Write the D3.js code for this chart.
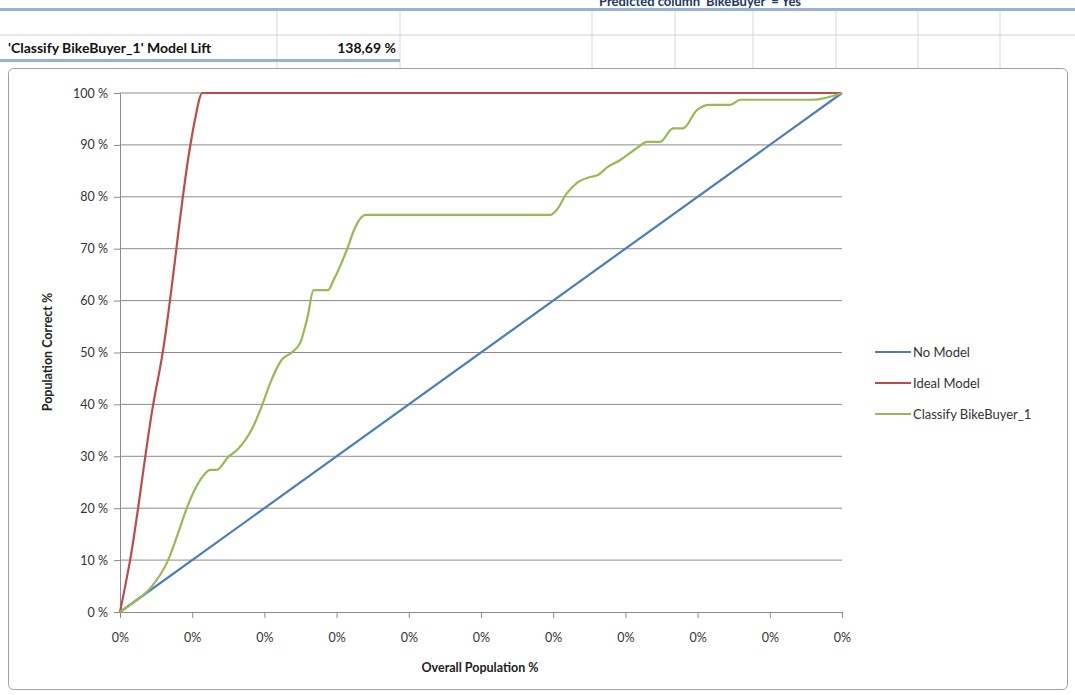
<!DOCTYPE html>
<html>
<head>
<meta charset="utf-8">
<script src="https://cdn.jsdelivr.net/npm/d3@7"></script>
<style>
  body { margin: 0; background: #fff; }
  svg text { font-family: Lato, "Open Sans", sans-serif; }
</style>
</head>
<body>
<div id="chart"></div>
<script>
var width = 1075, height = 695;

// Series data: [overall population %, population correct %]
var noModel = [[0, 0], [100, 100]];
var idealModel = [[0, 0], [1.4, 10], [4.6, 40], [5.8, 49], [9.7, 89.6], [10.4, 95], [11.4, 100], [100, 100]];
var classify = [[0, 0], [2, 2], [4.2, 4.6], [6.6, 9.8], [8, 15], [9.3, 20.2], [11.1, 25.4], [12.5, 27.4],
  [13.4, 27.4], [15, 29.9], [16.2, 31.2], [18.4, 35.6], [19.7, 39.9], [20.8, 44.1], [22.4, 48.6],
  [23.8, 50], [25, 52], [26, 57], [26.8, 62], [28.8, 62], [29.6, 64], [31.4, 69.7], [32.6, 74.2],
  [34, 76.5], [59.6, 76.5], [60.5, 77.5], [61.8, 80.5], [63.3, 82.7], [65.1, 83.8], [66.2, 84.2],
  [67.5, 85.7], [69.3, 87.1], [71.6, 89.4], [73, 90.6], [74.8, 90.6], [76.6, 93.2], [78, 93.2],
  [79.9, 96.7], [81.7, 97.7], [84.5, 97.7], [85.9, 98.7], [96, 98.7], [100, 100]];

var seriesNames = ["No Model", "Ideal Model", "Classify BikeBuyer_1"];
var seriesColors = ["#4a7ebb", "#be4b48", "#98b954"];
var xTickValues = [0, 10, 20, 30, 40, 50, 60, 70, 80, 90, 100];
var xTickLabels = ["0%", "0%", "0%", "0%", "0%", "0%", "0%", "0%", "0%", "0%", "0%"];
var yTickValues = [0, 10, 20, 30, 40, 50, 60, 70, 80, 90, 100];

var modelLiftLabel = "'Classify BikeBuyer_1' Model Lift";
var modelLiftValue = "138,69 %";
var sheetTitle = "Predicted column 'BikeBuyer' = Yes";

var svg = d3.select("#chart").append("svg")
  .attr("width", width)
  .attr("height", height);

// Spreadsheet background behind the chart
var sheet = svg.append("g");
var colLines = [277, 400, 592, 675, 753, 836, 918, 1000];
sheet.selectAll(".col").data(colLines).enter().append("line")
  .attr("x1", function(d) { return d; }).attr("x2", function(d) { return d; })
  .attr("y1", 10).attr("y2", 68)
  .attr("stroke", "#d8d8d8");
sheet.append("line").attr("x1", 0).attr("x2", width).attr("y1", 35).attr("y2", 35).attr("stroke", "#d0d0d0");
sheet.append("rect").attr("x", 0).attr("y", 8).attr("width", width).attr("height", 3).attr("fill", "#95b3d7");
sheet.append("text")
  .attr("x", 700).attr("y", 6)
  .attr("text-anchor", "middle")
  .attr("font-size", 13).attr("font-weight", "bold").attr("fill", "#1f3864")
  .text(sheetTitle);
sheet.append("text")
  .attr("x", 8).attr("y", 53)
  .attr("font-size", 14).attr("font-weight", "bold").attr("fill", "#111")
  .text(modelLiftLabel);
sheet.append("text")
  .attr("x", 396).attr("y", 53)
  .attr("text-anchor", "end")
  .attr("font-size", 14).attr("font-weight", "bold").attr("fill", "#111")
  .text(modelLiftValue);
sheet.append("rect").attr("x", 0).attr("y", 59).attr("width", 400).attr("height", 3).attr("fill", "#95b3d7");

// Chart frame
svg.append("rect")
  .attr("x", 8.5).attr("y", 68.5).attr("width", 1059).attr("height", 621)
  .attr("rx", 5).attr("ry", 5)
  .attr("fill", "#fff").attr("stroke", "#a0a0a0");

var x = d3.scaleLinear().domain([0, 100]).range([120, 842]);
var y = d3.scaleLinear().domain([0, 100]).range([612, 93]);

var g = svg.append("g");

// Horizontal gridlines
g.selectAll(".grid").data(yTickValues.slice(1)).enter().append("line")
  .attr("x1", x(0)).attr("x2", x(100))
  .attr("y1", function(d) { return y(d); }).attr("y2", function(d) { return y(d); })
  .attr("stroke", "#8c8c8c").attr("stroke-width", 1);

// Y axis
var yAxis = g.append("g")
  .attr("transform", "translate(" + x(0) + ",0)")
  .call(d3.axisLeft(y).tickValues(yTickValues).tickSize(6).tickPadding(6)
    .tickFormat(function(d) { return d + " %"; }));
yAxis.select(".domain").attr("stroke", "#8c8c8c");
yAxis.selectAll(".tick line").attr("stroke", "#8c8c8c");
yAxis.selectAll("text").attr("font-size", 12.5).attr("fill", "#333").attr("font-family", "Lato, sans-serif");

// X axis
var xAxis = g.append("g")
  .attr("transform", "translate(0," + y(0) + ")")
  .call(d3.axisBottom(x).tickValues(xTickValues).tickSize(6).tickPadding(15)
    .tickFormat(function(d, i) { return xTickLabels[i]; }));
xAxis.select(".domain").attr("stroke", "#8c8c8c");
xAxis.selectAll(".tick line").attr("stroke", "#8c8c8c");
xAxis.selectAll("text").attr("font-size", 12.5).attr("fill", "#333").attr("font-family", "Lato, sans-serif");

// Axis titles
g.append("text")
  .attr("x", 480).attr("y", 672)
  .attr("text-anchor", "middle")
  .attr("font-size", 12.5).attr("font-weight", "bold").attr("fill", "#222")
  .text("Overall Population %");
g.append("text")
  .attr("transform", "translate(52,352) rotate(-90)")
  .attr("text-anchor", "middle")
  .attr("font-size", 12.5).attr("font-weight", "bold").attr("fill", "#222")
  .text("Population Correct %");

// Lines
var line = d3.line()
  .x(function(d) { return x(d[0]); })
  .y(function(d) { return y(d[1]); })
  .curve(d3.curveMonotoneX);

var allSeries = [noModel, idealModel, classify];
allSeries.forEach(function(s, i) {
  g.append("path")
    .datum(s)
    .attr("d", line)
    .attr("fill", "none")
    .attr("stroke", seriesColors[i])
    .attr("stroke-width", 2.2)
    .attr("stroke-linejoin", "round");
});

// Legend
var legend = g.selectAll(".legend").data(seriesNames).enter().append("g")
  .attr("transform", function(d, i) { return "translate(875," + (352 + i * 31) + ")"; });
legend.append("line")
  .attr("x1", 0).attr("x2", 36).attr("y1", 0).attr("y2", 0)
  .attr("stroke", function(d, i) { return seriesColors[i]; })
  .attr("stroke-width", 2.2);
legend.append("text")
  .attr("x", 38).attr("y", 4.5)
  .attr("font-size", 13).attr("fill", "#333")
  .text(function(d) { return d; });
</script>
</body>
</html>
